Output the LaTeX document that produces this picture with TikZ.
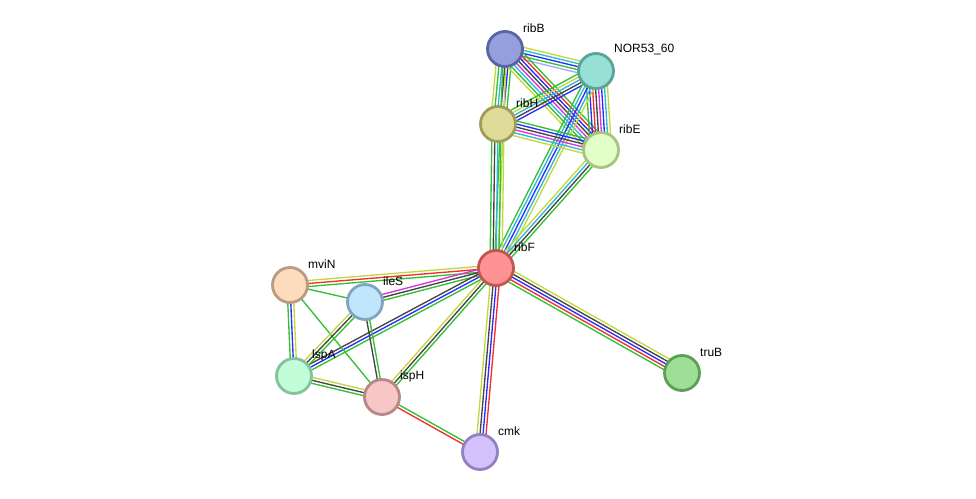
\documentclass[tikz,border=0pt]{standalone}
\usepackage{fontspec}
\setmainfont{Liberation Sans}
\usetikzlibrary{calc,backgrounds}

% evidence colours
\definecolor{lnkG}{HTML}{33C033}
\definecolor{lnkR}{HTML}{F03030}
\definecolor{lnkB}{HTML}{2C2CFF}
\definecolor{lnkK}{HTML}{454545}
\definecolor{lnkM}{HTML}{D835D8}
\definecolor{lnkC}{HTML}{30B8D8}
\definecolor{lnkY}{HTML}{C3D840}
\definecolor{lnkL}{HTML}{A8A8F8}

% parallel coloured lines between two nodes
\newcommand{\strlink}[3]{%
  \foreach \col [count=\i] in {#3} {\xdef\nlines{\i}}%
  \foreach \col [count=\i] in {#3} {%
    \pgfmathsetmacro{\off}{(\i-(\nlines+1)/2)*3}%
    \draw[line width=1.35pt,\col] ($(#1.center)!\off pt!90:(#2.center)$)
      -- ($(#2.center)!\off pt!-90:(#1.center)$);}}

\begin{document}
\begin{tikzpicture}[x=1pt,y=-1pt,
  every node/.style={font=\fontsize{12}{14}\selectfont},
  prot/.style={circle,draw,line width=2.8pt,minimum size=35pt,inner sep=0pt},
  tag/.style={anchor=west,inner sep=0pt}]
 \useasboundingbox (0,0) rectangle (976,498);
 % proteins
 \node[prot,fill={rgb,255:red,149;green,159;blue,221},draw={rgb,255:red,88;green,100;blue,163}] (ribB) at (505,49) {};
 \node[prot,fill={rgb,255:red,152;green,224;blue,213},draw={rgb,255:red,91;green,163;blue,151}] (nor) at (596,71) {};
 \node[prot,fill={rgb,255:red,223;green,220;blue,154},draw={rgb,255:red,160;green,157;blue,92}] (ribH) at (498,124) {};
 \node[prot,fill={rgb,255:red,227;green,255;blue,200},draw={rgb,255:red,166;green,197;blue,128}] (ribE) at (601,150) {};
 \node[prot,fill={rgb,255:red,255;green,147;blue,147},draw={rgb,255:red,192;green,87;blue,87}] (ribF) at (496,268) {};
 \node[prot,fill={rgb,255:red,253;green,220;blue,190},draw={rgb,255:red,186;green,157;blue,129}] (mviN) at (290,285) {};
 \node[prot,fill={rgb,255:red,192;green,230;blue,252},draw={rgb,255:red,127;green,166;blue,192}] (ileS) at (365,302) {};
 \node[prot,fill={rgb,255:red,193;green,253;blue,217},draw={rgb,255:red,130;green,194;blue,157}] (lspA) at (294,376) {};
 \node[prot,fill={rgb,255:red,247;green,199;blue,199},draw={rgb,255:red,183;green,136;blue,136}] (ispH) at (382,397) {};
 \node[prot,fill={rgb,255:red,211;green,194;blue,253},draw={rgb,255:red,147;green,129;blue,192}] (cmk) at (480,452) {};
 \node[prot,fill={rgb,255:red,158;green,223;blue,152},draw={rgb,255:red,94;green,159;blue,88}] (truB) at (682,373) {};
 % names
 \node[tag] (ribB-t) at ($(ribB)+(18,-21)$) {ribB};
 \node[tag] (nor-t) at ($(nor)+(18,-21)$) {NOR53\_60};
 \node[tag] (ribH-t) at ($(ribH)+(18,-21)$) {ribH};
 \node[tag] (ribE-t) at ($(ribE)+(18,-21)$) {ribE};
 \node[tag] (ribF-t) at ($(ribF)+(18,-21)$) {ribF};
 \node[tag] (mviN-t) at ($(mviN)+(18,-21)$) {mviN};
 \node[tag] (ileS-t) at ($(ileS)+(18,-21)$) {ileS};
 \node[tag] (lspA-t) at ($(lspA)+(18,-21)$) {lspA};
 \node[tag] (ispH-t) at ($(ispH)+(18,-21)$) {ispH};
 \node[tag] (cmk-t) at ($(cmk)+(18,-21)$) {cmk};
 \node[tag] (truB-t) at ($(truB)+(18,-21)$) {truB};
 % interactions
 \begin{scope}[on background layer]
  \strlink{ribB}{nor}{lnkL,lnkG,lnkB,lnkC,lnkY}
  \strlink{ribB}{ribH}{lnkY,lnkG,lnkC,lnkK,lnkB,lnkG}
  \strlink{ribB}{ribE}{lnkY,lnkG,lnkC,lnkM,lnkK,lnkB,lnkR,lnkG}
  \strlink{ribB}{ribF}{lnkG,lnkY}
  \strlink{nor}{ribH}{lnkG,lnkY,lnkC,lnkK,lnkB}
  \strlink{nor}{ribE}{lnkG,lnkB,lnkR,lnkK,lnkM,lnkB,lnkC,lnkY}
  \strlink{nor}{ribF}{lnkG,lnkC,lnkB,lnkC,lnkY}
  \strlink{ribH}{ribE}{lnkY,lnkC,lnkM,lnkK,lnkB,lnkG}
  \strlink{ribH}{ribF}{lnkG,lnkK,lnkC,lnkG,lnkY}
  \strlink{ribE}{ribF}{lnkY,lnkC,lnkK,lnkG}
  \strlink{ribF}{mviN}{lnkY,lnkR,lnkG}
  \strlink{ribF}{ileS}{lnkM,lnkK,lnkG}
  \strlink{ribF}{lspA}{lnkK,lnkB,lnkG}
  \strlink{ribF}{ispH}{lnkY,lnkK,lnkG}
  \strlink{ribF}{cmk}{lnkY,lnkK,lnkB,lnkR}
  \strlink{ribF}{truB}{lnkG,lnkR,lnkB,lnkK,lnkY}
  \strlink{mviN}{ileS}{lnkG}
  \strlink{mviN}{lspA}{lnkG,lnkB,lnkY}
  \strlink{mviN}{ispH}{lnkG}
  \strlink{ileS}{lspA}{lnkY,lnkK,lnkG}
  \strlink{ileS}{ispH}{lnkK,lnkG}
  \strlink{lspA}{ispH}{lnkG,lnkK,lnkY}
  \strlink{ispH}{cmk}{lnkR,lnkG}
 \end{scope}
\end{tikzpicture}
\end{document}
